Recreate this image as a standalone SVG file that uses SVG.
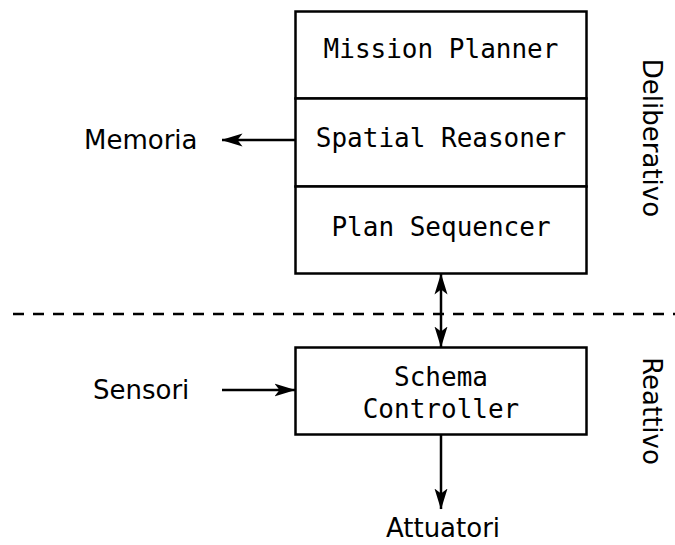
<svg xmlns="http://www.w3.org/2000/svg" width="675" height="545" viewBox="0 0 675 545">
  <style>
    .box { fill: #ffffff; stroke: #000000; stroke-width: 2.5; }
    .mono { font-family: "DejaVu Sans Mono", "Liberation Mono", monospace; font-size: 26px; fill: #000000; text-anchor: middle; }
    .sans { font-family: "DejaVu Sans", "Liberation Sans", sans-serif; font-size: 26px; fill: #000000; }
    .wire { fill: none; stroke: #000000; stroke-width: 2.5; }
    .sep { fill: none; stroke: #000000; stroke-width: 2.5; stroke-dasharray: 11 9; }
  </style>
  <defs>
    <marker id="head" viewBox="0 0 21 14" refX="20.5" refY="7" markerWidth="21" markerHeight="14" markerUnits="userSpaceOnUse" orient="auto-start-reverse">
      <path d="M0,0.5 L21,7 L0,13.5 L5,7 Z" fill="#000000"/>
    </marker>
  </defs>

  <!-- layer separator -->
  <line class="sep" x1="13" y1="314" x2="675" y2="314"/>

  <!-- deliberative stack -->
  <g id="mission-planner">
    <rect class="box" x="295.5" y="11.5" width="291" height="87"/>
    <text class="mono" x="441" y="58">Mission Planner</text>
  </g>
  <g id="spatial-reasoner">
    <rect class="box" x="295.5" y="98.5" width="291" height="88"/>
    <text class="mono" x="441" y="147">Spatial Reasoner</text>
  </g>
  <g id="plan-sequencer">
    <rect class="box" x="295.5" y="186.5" width="291" height="87"/>
    <text class="mono" x="441" y="236">Plan Sequencer</text>
  </g>

  <!-- reactive layer -->
  <g id="schema-controller">
    <rect class="box" x="295.5" y="347.5" width="291" height="87"/>
    <text class="mono" x="441" y="386">Schema</text>
    <text class="mono" x="441" y="418">Controller</text>
  </g>

  <!-- external labels -->
  <g id="memoria"><text class="sans" x="84" y="149">Memoria</text></g>
  <g id="sensori"><text class="sans" x="93" y="399">Sensori</text></g>
  <g id="attuatori"><text class="sans" x="443" y="537" text-anchor="middle">Attuatori</text></g>
  <g id="deliberativo"><text class="sans" transform="translate(643,138) rotate(90)" text-anchor="middle">Deliberativo</text></g>
  <g id="reattivo"><text class="sans" transform="translate(643,411) rotate(90)" text-anchor="middle">Reattivo</text></g>

  <!-- connectors -->
  <g id="connectors">
    <line class="wire" x1="295" y1="140" x2="222" y2="140" marker-end="url(#head)"/>
    <line class="wire" x1="441" y1="274" x2="441" y2="347" marker-start="url(#head)" marker-end="url(#head)"/>
    <line class="wire" x1="222" y1="390" x2="295" y2="390" marker-end="url(#head)"/>
    <line class="wire" x1="441" y1="435" x2="441" y2="509" marker-end="url(#head)"/>
  </g>
</svg>
